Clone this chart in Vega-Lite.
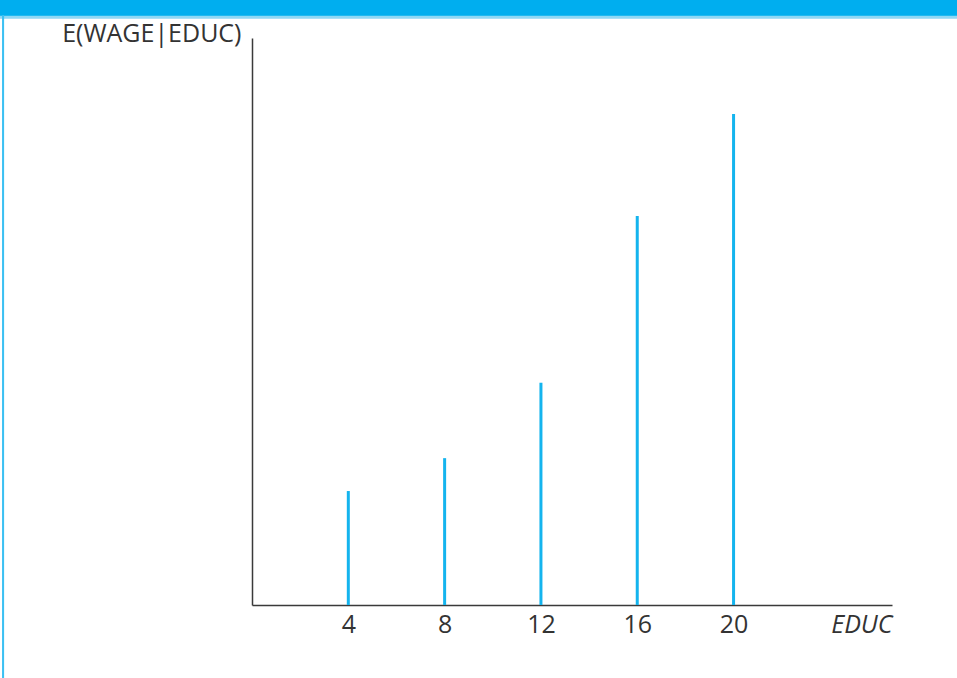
{
  "$schema": "https://vega.github.io/schema/vega-lite/v6.json",
  "autosize": "none",
  "width": 640,
  "height": 567,
  "padding": {"left": 252, "top": 38, "right": 65, "bottom": 73},
  "background": "white",
  "config": {
    "view": {"stroke": null},
    "font": "Open Sans"
  },
  "data": {
    "values": [
      {"educ": 4, "wage": 20.1},
      {"educ": 8, "wage": 25.9},
      {"educ": 12, "wage": 39.2},
      {"educ": 16, "wage": 68.6},
      {"educ": 20, "wage": 86.6}
    ]
  },
  "layer": [
    {
      "mark": {"type": "rule", "color": "#14B4EE", "strokeWidth": 3},
      "encoding": {
        "x": {
          "field": "educ",
          "type": "quantitative",
          "scale": {"domain": [0, 26.58], "nice": false, "zero": false},
          "axis": {
            "values": [4, 8, 12, 16, 20],
            "grid": false,
            "ticks": false,
            "tickSize": 0,
            "domainColor": "#3a3a3a",
            "domainWidth": 1.5,
            "labelFont": "Open Sans",
            "labelFontSize": 25,
            "labelColor": "#333333",
            "labelBaseline": "alphabetic",
            "labelPadding": 27,
            "title": "EDUC",
            "titleFont": "Open Sans",
            "titleFontSize": 25,
            "titleFontWeight": "normal",
            "titleFontStyle": "italic",
            "titleColor": "#333333",
            "titleAlign": "right",
            "titleBaseline": "alphabetic",
            "titleX": 640,
            "titleY": 27
          }
        },
        "y": {
          "field": "wage",
          "type": "quantitative",
          "scale": {"domain": [0, 100], "nice": false, "zero": false},
          "axis": {
            "grid": false,
            "ticks": false,
            "labels": false,
            "domainColor": "#3a3a3a",
            "domainWidth": 1.5,
            "title": "E(WAGE|EDUC)",
            "titleFont": "Open Sans",
            "titleFontSize": 25,
            "titleFontWeight": "normal",
            "titleColor": "#333333",
            "titleAngle": 0,
            "titleAlign": "right",
            "titleBaseline": "alphabetic",
            "titleX": -11,
            "titleY": 3
          }
        },
        "y2": {"datum": 0}
      }
    },
    {
      "mark": {"type": "rect", "color": "#8ED8F5"},
      "encoding": {
        "x": {"datum": -20, "type": "quantitative"},
        "x2": {"datum": 30},
        "y": {"datum": 103.5, "type": "quantitative"},
        "y2": {"datum": 104.1}
      }
    },
    {
      "mark": {"type": "rect", "color": "#00AEEF"},
      "encoding": {
        "x": {"datum": -20, "type": "quantitative"},
        "x2": {"datum": 30},
        "y": {"datum": 104.0, "type": "quantitative"},
        "y2": {"datum": 112}
      }
    },
    {
      "mark": {"type": "rule", "color": "#3CC0F2", "strokeWidth": 1.5},
      "encoding": {
        "x": {"datum": -10.33, "type": "quantitative"},
        "y": {"datum": -20, "type": "quantitative"},
        "y2": {"datum": 104}
      }
    }
  ]
}
